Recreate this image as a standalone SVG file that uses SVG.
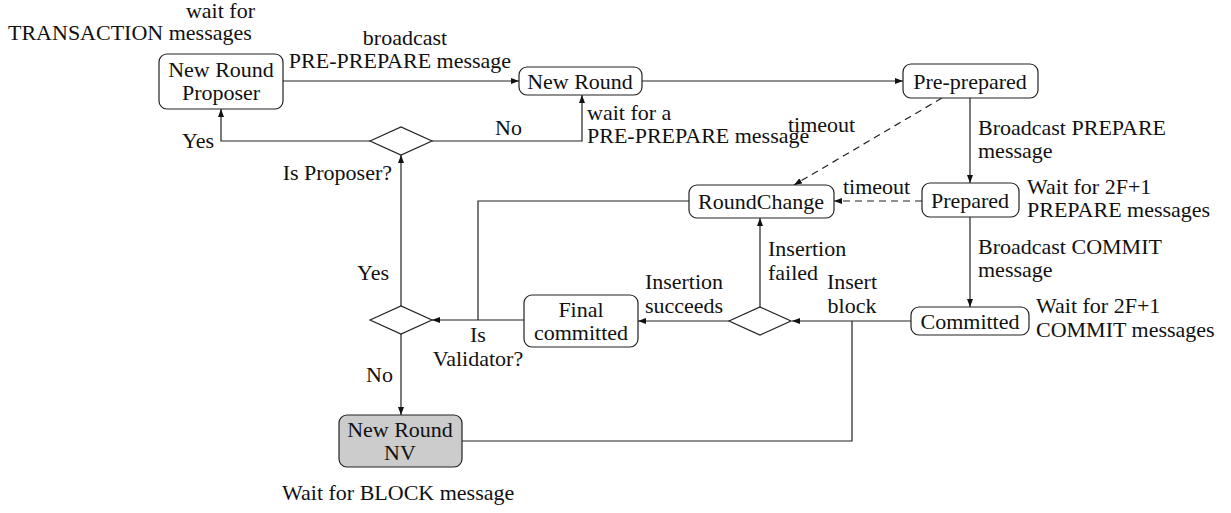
<svg xmlns="http://www.w3.org/2000/svg" width="1231" height="513" viewBox="0 0 1231 513">
<style>
text{font-family:"Liberation Serif","Times New Roman",serif;font-size:22px;fill:#111}
.c{text-anchor:middle}
.r{text-anchor:end}
.box{fill:#fff;stroke:#222;stroke-width:1.2}
.gray{fill:#cccccc}
.dia{fill:#fff;stroke:#222;stroke-width:1.2}
.ln{fill:none;stroke:#222;stroke-width:1.2}
.ar{marker-end:url(#arr)}
.da{stroke-dasharray:7 5}
</style>
<defs>
<marker id="arr" markerUnits="userSpaceOnUse" markerWidth="8" markerHeight="6" refX="8" refY="3" orient="auto">
<path d="M0,0 L8,3 L0,6 z" fill="#111"/>
</marker>
</defs>
<rect width="1231" height="513" fill="#fff"/>
<g id="connectors">
<path class="ln ar" d="M283,81 H519"/>
<path class="ln ar" d="M642,81 H903"/>
<path class="ln ar" d="M970,98 V183"/>
<path class="ln ar" d="M970,217 V307"/>
<path class="ln ar da" d="M922,201 H834"/>
<path class="ln ar da" d="M942,98 L794,185"/>
<path class="ln ar" d="M911,321 H792"/>
<path class="ln ar" d="M729,321 H638"/>
<path class="ln ar" d="M760,307 V218"/>
<path class="ln ar" d="M524,320 H432"/>
<path class="ln" d="M689,201 H478 V320"/>
<path class="ln ar" d="M401,306 V155"/>
<path class="ln ar" d="M401,334 V415"/>
<path class="ln ar" d="M370,141 H221 V109"/>
<path class="ln ar" d="M432,141 H582 V95"/>
<path class="ln" d="M462,441 H852 V321"/>
</g>
<g id="labels">
<text class="r" x="255" y="18">wait for</text>
<text x="8" y="40">TRANSACTION messages</text>
<text class="c" x="405" y="45">broadcast</text>
<text class="c" x="400" y="68">PRE-PREPARE message</text>
<text x="587" y="120">wait for a</text>
<text x="587" y="143">PRE-PREPARE message</text>
<text x="495" y="135">No</text>
<text x="182" y="148">Yes</text>
<text class="r" x="392" y="180">Is Proposer?</text>
<text x="788" y="132">timeout</text>
<text x="978" y="135">Broadcast PREPARE</text>
<text x="978" y="158">message</text>
<text x="843" y="194">timeout</text>
<text x="1027" y="194">Wait for 2F+1</text>
<text x="1027" y="217">PREPARE messages</text>
<text x="978" y="254">Broadcast COMMIT</text>
<text x="978" y="277">message</text>
<text x="1036" y="313">Wait for 2F+1</text>
<text x="1036" y="337">COMMIT messages</text>
<text x="768" y="256">Insertion</text>
<text x="768" y="280">failed</text>
<text class="c" x="852" y="289">Insert</text>
<text class="c" x="852" y="313">block</text>
<text class="c" x="684" y="289">Insertion</text>
<text class="c" x="684" y="313">succeeds</text>
<text x="357" y="280">Yes</text>
<text x="366" y="382">No</text>
<text class="c" x="478" y="342">Is</text>
<text class="c" x="478" y="366">Validator?</text>
<text x="282" y="500">Wait for BLOCK message</text>
</g>
<g id="nrp"><rect class="box" x="159" y="54" width="124" height="55" rx="8"/><text class="c" x="221" y="77">New Round</text><text class="c" x="221" y="100">Proposer</text></g>
<g id="nr"><rect class="box" x="519" y="67" width="123" height="28" rx="8"/><text class="c" x="580" y="88.5">New Round</text></g>
<g id="pp"><rect class="box" x="903" y="64" width="135" height="34" rx="8"/><text class="c" x="970" y="88.5">Pre-prepared</text></g>
<g id="rc"><rect class="box" x="689" y="185" width="145" height="33" rx="8"/><text class="c" x="761" y="209">RoundChange</text></g>
<g id="prep"><rect class="box" x="922" y="183" width="97" height="34" rx="8"/><text class="c" x="970" y="207.5">Prepared</text></g>
<g id="comm"><rect class="box" x="911" y="307" width="118" height="28" rx="8"/><text class="c" x="970" y="328.5">Committed</text></g>
<g id="fc"><rect class="box" x="524" y="295" width="114" height="52" rx="8"/><text class="c" x="581" y="317">Final</text><text class="c" x="581" y="340">committed</text></g>
<g id="nv"><rect class="box gray" x="339" y="415" width="123" height="52" rx="8"/><text class="c" x="400" y="437">New Round</text><text class="c" x="400" y="460">NV</text></g>
<g id="d1"><polygon class="dia" points="370,141 401,127 432,141 401,155"/></g>
<g id="d2"><polygon class="dia" points="370,320 401,306 432,320 401,334"/></g>
<g id="d3"><polygon class="dia" points="729,321 760,307 791,321 760,335"/></g>
</svg>
